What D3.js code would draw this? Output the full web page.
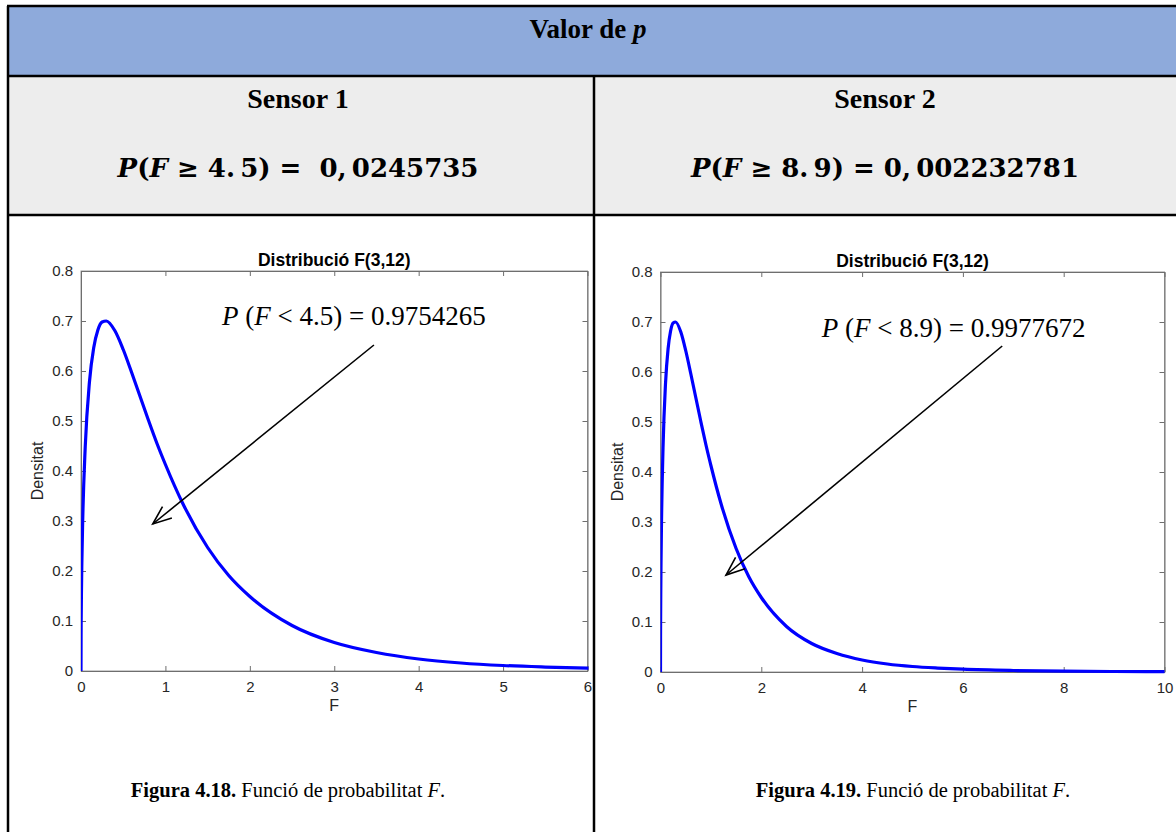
<!DOCTYPE html>
<html>
<head>
<meta charset="utf-8">
<script src="https://cdn.jsdelivr.net/npm/d3@7"></script>
<style>
  html, body { margin: 0; padding: 0; background: #fff; }
  svg { display: block; }
  text { white-space: pre; }
</style>
</head>
<body>
<svg id="chart" width="1176" height="832"></svg>
<script>
// ---------- data ----------
const fValues = [0, 0.001, 0.002, 0.005, 0.01, 0.02, 0.05, 0.1, 0.15, 0.2, 0.25, 0.3, 0.4, 0.5, 0.6, 0.7, 0.8, 0.9, 1.0, 1.2, 1.5, 1.75, 2, 2.5, 3, 3.5, 4, 4.5, 5, 5.5, 6, 7, 8, 9, 10];
const densityValues = [0, 0.069, 0.098, 0.154, 0.216, 0.300, 0.448, 0.578, 0.646, 0.682, 0.698, 0.700, 0.681, 0.643, 0.597, 0.549, 0.501, 0.455, 0.413, 0.337, 0.247, 0.191, 0.149, 0.091, 0.057, 0.037, 0.024, 0.016, 0.011, 0.0079, 0.0056, 0.0030, 0.0016, 0.0010, 0.0006];
const yTickValues = [0, 0.1, 0.2, 0.3, 0.4, 0.5, 0.6, 0.7, 0.8];
const xTicksSensor1 = [0, 1, 2, 3, 4, 5, 6];
const xTicksSensor2 = [0, 2, 4, 6, 8, 10];
const sensorNames = ["Sensor 1", "Sensor 2"];
const thresholds = ["4.5", "8.9"];
const pUpper = ["0,0245735", "0,002232781"];
const pLower = ["0.9754265", "0.9977672"];
const figureNumbers = ["4.18", "4.19"];
const xMaxValues = [6, 10];

const data = fValues.map((f, i) => ({ f, d: densityValues[i] }));

const svg = d3.select("#chart");

// ---------- table ----------
const tLeft = 8, tRight = 1190, tTop = 6, tBottom = 850;
const headerBottom = 76, row2Bottom = 215, colDiv = 594;

svg.append("rect").attr("x", tLeft).attr("y", tTop).attr("width", tRight - tLeft).attr("height", headerBottom - tTop).attr("fill", "#8EAADB");
svg.append("rect").attr("x", tLeft).attr("y", headerBottom).attr("width", tRight - tLeft).attr("height", row2Bottom - headerBottom).attr("fill", "#EDEDED");

const borders = svg.append("g").attr("stroke", "#000").attr("stroke-width", 2.5).attr("fill", "none");
borders.append("line").attr("x1", tLeft - 1).attr("x2", tRight).attr("y1", tTop).attr("y2", tTop);
borders.append("line").attr("x1", tLeft).attr("x2", tLeft).attr("y1", tTop).attr("y2", tBottom);
borders.append("line").attr("x1", tLeft).attr("x2", tRight).attr("y1", headerBottom).attr("y2", headerBottom);
borders.append("line").attr("x1", tLeft).attr("x2", tRight).attr("y1", row2Bottom).attr("y2", row2Bottom);
borders.append("line").attr("x1", colDiv).attr("x2", colDiv).attr("y1", headerBottom).attr("y2", tBottom);

const serif = "'Liberation Serif', 'Times New Roman', serif";
const mathFont = "'DejaVu Serif', serif";
const sans = "'Liberation Sans', Arial, Helvetica, sans-serif";

const hdr = svg.append("text").attr("x", 588).attr("y", 38).attr("text-anchor", "middle")
  .attr("font-family", serif).attr("font-size", 27).attr("font-weight", "bold").attr("fill", "#000");
hdr.append("tspan").text("Valor de ");
hdr.append("tspan").attr("font-style", "italic").text("p");

const colCenters = [298, 885];
const captionCenters = [288, 913];
const thin = "\u2009";

sensorNames.forEach((name, i) => {
  svg.append("text").attr("x", colCenters[i]).attr("y", 108).attr("text-anchor", "middle")
    .attr("font-family", serif).attr("font-size", 28).attr("font-weight", "bold").text(name);
  const f = svg.append("text").attr("x", colCenters[i]).attr("y", 177).attr("text-anchor", "middle")
    .attr("font-family", mathFont).attr("font-size", 26).attr("font-weight", "bold");
  f.append("tspan").attr("font-style", "italic").text("P");
  f.append("tspan").text("(");
  f.append("tspan").attr("font-style", "italic").text("F");
  f.append("tspan").text(" ≥ " + thresholds[i].replace(".", "." + thin) + ") = " + (i === 0 ? " " : "") + pUpper[i].replace(",", "," + thin));
  const c = svg.append("text").attr("x", captionCenters[i]).attr("y", 797).attr("text-anchor", "middle")
    .attr("font-family", serif).attr("font-size", 20.5);
  c.append("tspan").attr("font-weight", "bold").text("Figura " + figureNumbers[i] + ".");
  c.append("tspan").text(" Funció de probabilitat ");
  c.append("tspan").attr("font-style", "italic").text("F");
  c.append("tspan").text(".");
});

// ---------- plots ----------
const panels = [
  { x0: 81, x1: 587.5, top: 271, bottom: 671, ticks: xTicksSensor1, tip: [0.85, 0.294], start: [3.47, 0.652], txt: [1.67, 0.692] },
  { x0: 660.5, x1: 1164.5, top: 272, bottom: 672, ticks: xTicksSensor2, tip: [1.30, 0.194], start: [6.78, 0.652], txt: [3.20, 0.6706] }
];

panels.forEach((p, i) => {
  const x = d3.scaleLinear().domain([0, xMaxValues[i]]).range([p.x0, p.x1]);
  const y = d3.scaleLinear().domain([0, 0.8]).range([p.bottom, p.top]);
  const g = svg.append("g");
  const axisColor = "#6e6e6e";
  const labelColor = "#262626";

  // box
  g.append("rect").attr("x", p.x0).attr("y", p.top).attr("width", p.x1 - p.x0).attr("height", p.bottom - p.top)
    .attr("fill", "#fff").attr("stroke", "#9a9a9a").attr("stroke-width", 1);

  const fmt = d => d === 0 ? "0" : d3.format(".1f")(d);
  const axB = d3.axisBottom(x).tickValues(p.ticks).tickSizeInner(-5).tickSizeOuter(0).tickPadding(10).tickFormat(d3.format("d"));
  const axT = d3.axisTop(x).tickValues(p.ticks).tickSizeInner(-5).tickSizeOuter(0).tickFormat("");
  const axL = d3.axisLeft(y).tickValues(yTickValues).tickSizeInner(-5).tickSizeOuter(0).tickPadding(8).tickFormat(fmt);
  const axR = d3.axisRight(y).tickValues(yTickValues).tickSizeInner(-5).tickSizeOuter(0).tickFormat("");

  const style = sel => {
    sel.selectAll("path").attr("stroke", axisColor);
    sel.selectAll("line").attr("stroke", axisColor);
    sel.selectAll("text").attr("fill", labelColor).attr("font-family", sans).attr("font-size", 15);
  };
  g.append("g").attr("transform", `translate(0,${p.bottom})`).call(axB).call(style);
  g.append("g").attr("transform", `translate(0,${p.top})`).call(axT).call(style);
  g.append("g").attr("transform", `translate(${p.x0},0)`).call(axL).call(style);
  g.append("g").attr("transform", `translate(${p.x1},0)`).call(axR).call(style);

  // curve
  const clipId = "clip" + i;
  svg.append("clipPath").attr("id", clipId).append("rect")
    .attr("x", p.x0).attr("y", p.top - 5).attr("width", p.x1 - p.x0 + 1).attr("height", p.bottom - p.top + 10);
  const line = d3.line().x(d => x(d.f)).y(d => y(d.d)).curve(d3.curveMonotoneX);
  g.append("path").datum(data).attr("clip-path", `url(#${clipId})`)
    .attr("d", line).attr("fill", "none").attr("stroke", "#0000FF").attr("stroke-width", 3.2).attr("stroke-linejoin", "round");

  // title and labels
  g.append("text").attr("x", (p.x0 + p.x1) / 2).attr("y", p.top - 5).attr("text-anchor", "middle")
    .attr("font-family", sans).attr("font-weight", "bold").attr("font-size", 17.5).attr("fill", "#000")
    .text("Distribució F(3,12)");
  g.append("text").attr("x", (p.x0 + p.x1) / 2).attr("y", p.bottom + 40).attr("text-anchor", "middle")
    .attr("font-family", sans).attr("font-size", 16).attr("fill", labelColor).text("F");
  g.append("text").attr("transform", `translate(${p.x0 - 38},${(p.top + p.bottom) / 2}) rotate(-90)`)
    .attr("text-anchor", "middle").attr("font-family", sans).attr("font-size", 16).attr("fill", labelColor).text("Densitat");

  // annotation
  const t = g.append("text").attr("x", x(p.txt[0])).attr("y", y(p.txt[1]))
    .attr("font-family", serif).attr("font-size", 27).attr("fill", "#000");
  t.append("tspan").attr("font-style", "italic").text("P");
  t.append("tspan").text(" (");
  t.append("tspan").attr("font-style", "italic").text("F");
  t.append("tspan").text(" < " + thresholds[i] + ") = " + pLower[i]);

  const sx = x(p.start[0]), sy = y(p.start[1]), ex = x(p.tip[0]), ey = y(p.tip[1]);
  g.append("line").attr("x1", sx).attr("y1", sy).attr("x2", ex).attr("y2", ey).attr("stroke", "#000").attr("stroke-width", 1.6);
  const ang = Math.atan2(ey - sy, ex - sx);
  const L = 20, spread = 0.38;
  const b1 = [ex - L * Math.cos(ang - spread), ey - L * Math.sin(ang - spread)];
  const b2 = [ex - L * Math.cos(ang + spread), ey - L * Math.sin(ang + spread)];
  g.append("path").attr("d", `M${b1[0]},${b1[1]}L${ex},${ey}L${b2[0]},${b2[1]}`)
    .attr("fill", "none").attr("stroke", "#000").attr("stroke-width", 1.6).attr("stroke-linejoin", "miter");
});
</script>
</body>
</html>
